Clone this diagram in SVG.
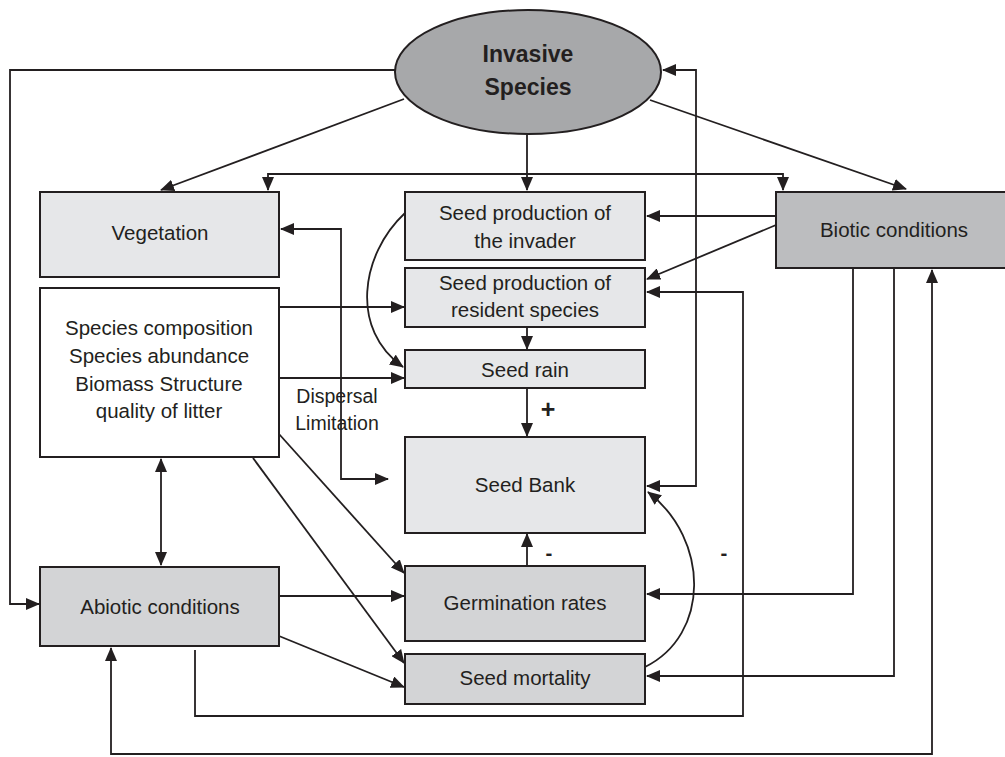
<svg xmlns="http://www.w3.org/2000/svg" width="1005" height="757" viewBox="0 0 1005 757">
<style>
.box{stroke:#231f20;stroke-width:2}
.l1{fill:#e6e7e9}
.l2{fill:#d3d4d6}
.l3{fill:#bcbdbf}
.t{font-family:"Liberation Sans",Arial,sans-serif;font-size:20.5px;fill:#231f20;text-anchor:middle}
.b{font-weight:bold}
.c{fill:none;stroke:#231f20;stroke-width:1.8}
</style>
<defs>
<marker id="a" markerUnits="userSpaceOnUse" markerWidth="14" markerHeight="12" refX="13" refY="6" orient="auto-start-reverse" viewBox="0 0 14 12">
<path d="M0,0 L14,6 L0,12 z" fill="#231f20"/>
</marker>
</defs>
<rect width="1005" height="757" fill="#fff"/>
<g id="connectors">
<path class="c" d="M395,70 H10 V604 H39" marker-end="url(#a)"/>
<path class="c" d="M404,99 L161,190" marker-end="url(#a)"/>
<path class="c" d="M527,135 V190" marker-end="url(#a)"/>
<path class="c" d="M268,190 V174 H783 V190" marker-start="url(#a)" marker-end="url(#a)"/>
<path class="c" d="M650,100 L906,189" marker-end="url(#a)"/>
<path class="c" d="M776,216 H647" marker-end="url(#a)"/>
<path class="c" d="M776,225 L647,279" marker-end="url(#a)"/>
<path class="c" d="M647,486 H696 V70 H663" marker-start="url(#a)" marker-end="url(#a)"/>
<path class="c" d="M195,650 V716 H743 V292 H647" marker-end="url(#a)"/>
<path class="c" d="M853,268 V594 H647" marker-end="url(#a)"/>
<path class="c" d="M894,268 V676 H647" marker-end="url(#a)"/>
<path class="c" d="M111,648 V754 H932 V270" marker-start="url(#a)" marker-end="url(#a)"/>
<path class="c" d="M279,307 H404" marker-end="url(#a)"/>
<path class="c" d="M279,378 H404" marker-end="url(#a)"/>
<path class="c" d="M281,229 H341 V479 H388" marker-start="url(#a)" marker-end="url(#a)"/>
<path class="c" d="M161,459 V565" marker-start="url(#a)" marker-end="url(#a)"/>
<path class="c" d="M279,434 L404,573" marker-end="url(#a)"/>
<path class="c" d="M253,458 L404,663" marker-end="url(#a)"/>
<path class="c" d="M279,596 H404" marker-end="url(#a)"/>
<path class="c" d="M279,636 L404,687" marker-end="url(#a)"/>
<path class="c" d="M527,327 V349" marker-end="url(#a)"/>
<path class="c" d="M527,388 V436" marker-end="url(#a)"/>
<path class="c" d="M527,566 V534" marker-end="url(#a)"/>
<path class="c" d="M405,213 C360,255 350,330 403,367" marker-end="url(#a)"/>
<path class="c" d="M645,667 C710,635 710,540 648,492" marker-end="url(#a)"/>
<text class="t b" x="548" y="418" style="font-size:25px">+</text>
<text class="t b" x="549" y="560">-</text>
<text class="t b" x="724" y="560">-</text>
<text class="t" x="337" y="403" style="font-size:19.5px">Dispersal</text>
<text class="t" x="337" y="430" style="font-size:19.5px">Limitation</text>
</g>
<g id="invasive">
<ellipse cx="528" cy="72" rx="133" ry="62" fill="#a7a8aa" class="box"/>
<text class="t b" x="528" y="62" style="font-size:23px">Invasive</text>
<text class="t b" x="528" y="95" style="font-size:23px">Species</text>
</g>
<g id="vegetation">
<rect x="40" y="192" width="239" height="85" class="box l1"/>
<text class="t" x="160" y="240">Vegetation</text>
</g>
<g id="species">
<rect x="40" y="288" width="239" height="169" class="box" fill="#fff"/>
<text class="t" x="159" y="335">Species composition</text>
<text class="t" x="159" y="363">Species abundance</text>
<text class="t" x="159" y="391">Biomass Structure</text>
<text class="t" x="159" y="418">quality of litter</text>
</g>
<g id="abiotic">
<rect x="40" y="567" width="239" height="79" class="box l2"/>
<text class="t" x="160" y="614">Abiotic conditions</text>
</g>
<g id="seedprodinvader">
<rect x="405" y="192" width="240" height="68" class="box l1"/>
<text class="t" x="525" y="220">Seed production of</text>
<text class="t" x="525" y="248">the invader</text>
</g>
<g id="seedprodresident">
<rect x="405" y="268" width="240" height="59" class="box l1"/>
<text class="t" x="525" y="290">Seed production of</text>
<text class="t" x="525" y="317">resident species</text>
</g>
<g id="seedrain">
<rect x="405" y="350" width="240" height="38" class="box l1"/>
<text class="t" x="525" y="377">Seed rain</text>
</g>
<g id="seedbank">
<rect x="405" y="437" width="240" height="96" class="box l1"/>
<text class="t" x="525" y="492">Seed Bank</text>
</g>
<g id="germination">
<rect x="405" y="566" width="240" height="75" class="box l2"/>
<text class="t" x="525" y="610">Germination rates</text>
</g>
<g id="mortality">
<rect x="405" y="654" width="240" height="50" class="box l2"/>
<text class="t" x="525" y="685">Seed mortality</text>
</g>
<g id="biotic">
<rect x="776" y="192" width="232" height="76" class="box l3"/>
<text class="t" x="894" y="237">Biotic conditions</text>
</g>
</svg>
